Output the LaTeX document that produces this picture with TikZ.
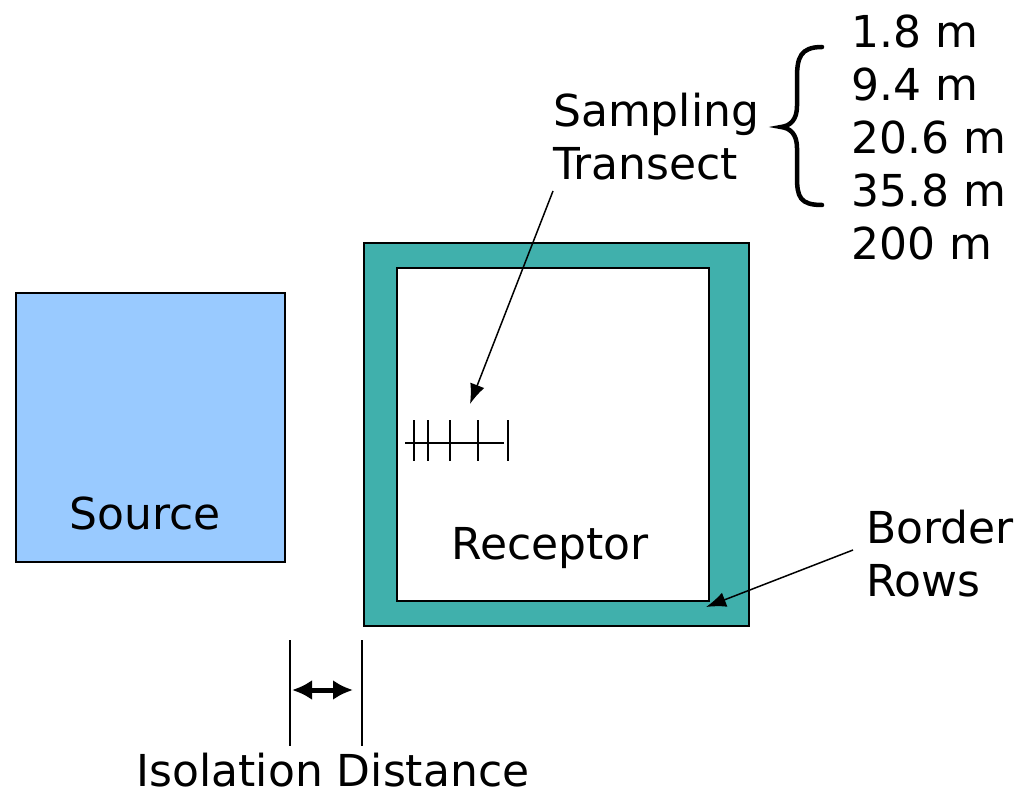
\documentclass[tikz,border=0pt]{standalone}
\usepackage{fontspec}
\setmainfont{DejaVu Sans}
\usetikzlibrary{arrows.meta,decorations.pathreplacing}
\definecolor{srcblue}{RGB}{153,202,255}
\definecolor{teal}{RGB}{64,176,172}
\tikzset{
  lbl/.style={inner sep=0pt, font=\fontsize{44}{53}\selectfont, align=left},
  box/.style={draw=black, line width=2pt},
  pointer/.style={line width=1.5pt, -{Latex[length=20pt,width=15pt]}},
  tick/.style={line width=2pt},
}
\begin{document}
\begin{tikzpicture}[x=1pt,y=-1pt]
\useasboundingbox (0,0) rectangle (1028,797);
% source
\node[box, fill=srcblue, minimum width=269pt, minimum height=269pt, inner sep=0pt] (src) at (150.5,427.5) {};
\node[lbl] (srclbl) at (145,513) {Source};
% receptor
\node[box, fill=teal, minimum width=385pt, minimum height=383pt, inner sep=0pt] (recout) at (556.5,434.5) {};
\node[box, fill=white, minimum width=312pt, minimum height=333pt, inner sep=0pt] (recin) at (553,434.5) {};
\node[lbl] (reclbl) at (550,548) {Receptor};
% transect
\coordinate (t0) at (405,443);
\coordinate (t1) at (504,443);
\draw[tick] (t0) -- (t1);
\foreach \x in {414,428,450,478,508} \draw[tick] (\x,420) -- (\x,461);
% sampling label and arrow
\node[lbl, anchor=west] (samp) at (553,137) {Sampling\\Transect};
\coordinate (sa) at (553,191);
\coordinate (sb) at (470,404);
\draw[pointer] (sa) -- (sb);
% distances
\node[lbl, anchor=west] (dist) at (851,137) {1.8 m\\9.4 m\\20.6 m\\35.8 m\\200 m};
\coordinate (bt) at (822,47);
\coordinate (bb) at (822,205);
\draw[line width=4.5pt, line cap=round] (bt) .. controls (800,47) and (797,58) .. (797,78)
  -- (797,106) .. controls (797,120) and (790,126) .. (781,127)
  .. controls (790,128) and (797,134) .. (797,148)
  -- (797,177) .. controls (797,197) and (800,205) .. (bb);
% border rows
\node[lbl, anchor=west] (brd) at (866,554) {Border\\Rows};
\coordinate (ba) at (853,550);
\coordinate (bbp) at (706,607);
\draw[pointer] (ba) -- (bbp);
% isolation distance
\coordinate (l1t) at (290,640);
\coordinate (l1b) at (290,746);
\coordinate (l2t) at (362,640);
\coordinate (l2b) at (362,746);
\draw[line width=2pt] (l1t) -- (l1b);
\draw[line width=2pt] (l2t) -- (l2b);
\coordinate (ia) at (292,690);
\coordinate (ib) at (353,690);
\draw[line width=5pt, {Latex[length=20pt,width=20pt]}-{Latex[length=20pt,width=20pt]}] (ia) -- (ib);
\node[lbl] (iso) at (333,770) {Isolation Distance};
\end{tikzpicture}
\end{document}
